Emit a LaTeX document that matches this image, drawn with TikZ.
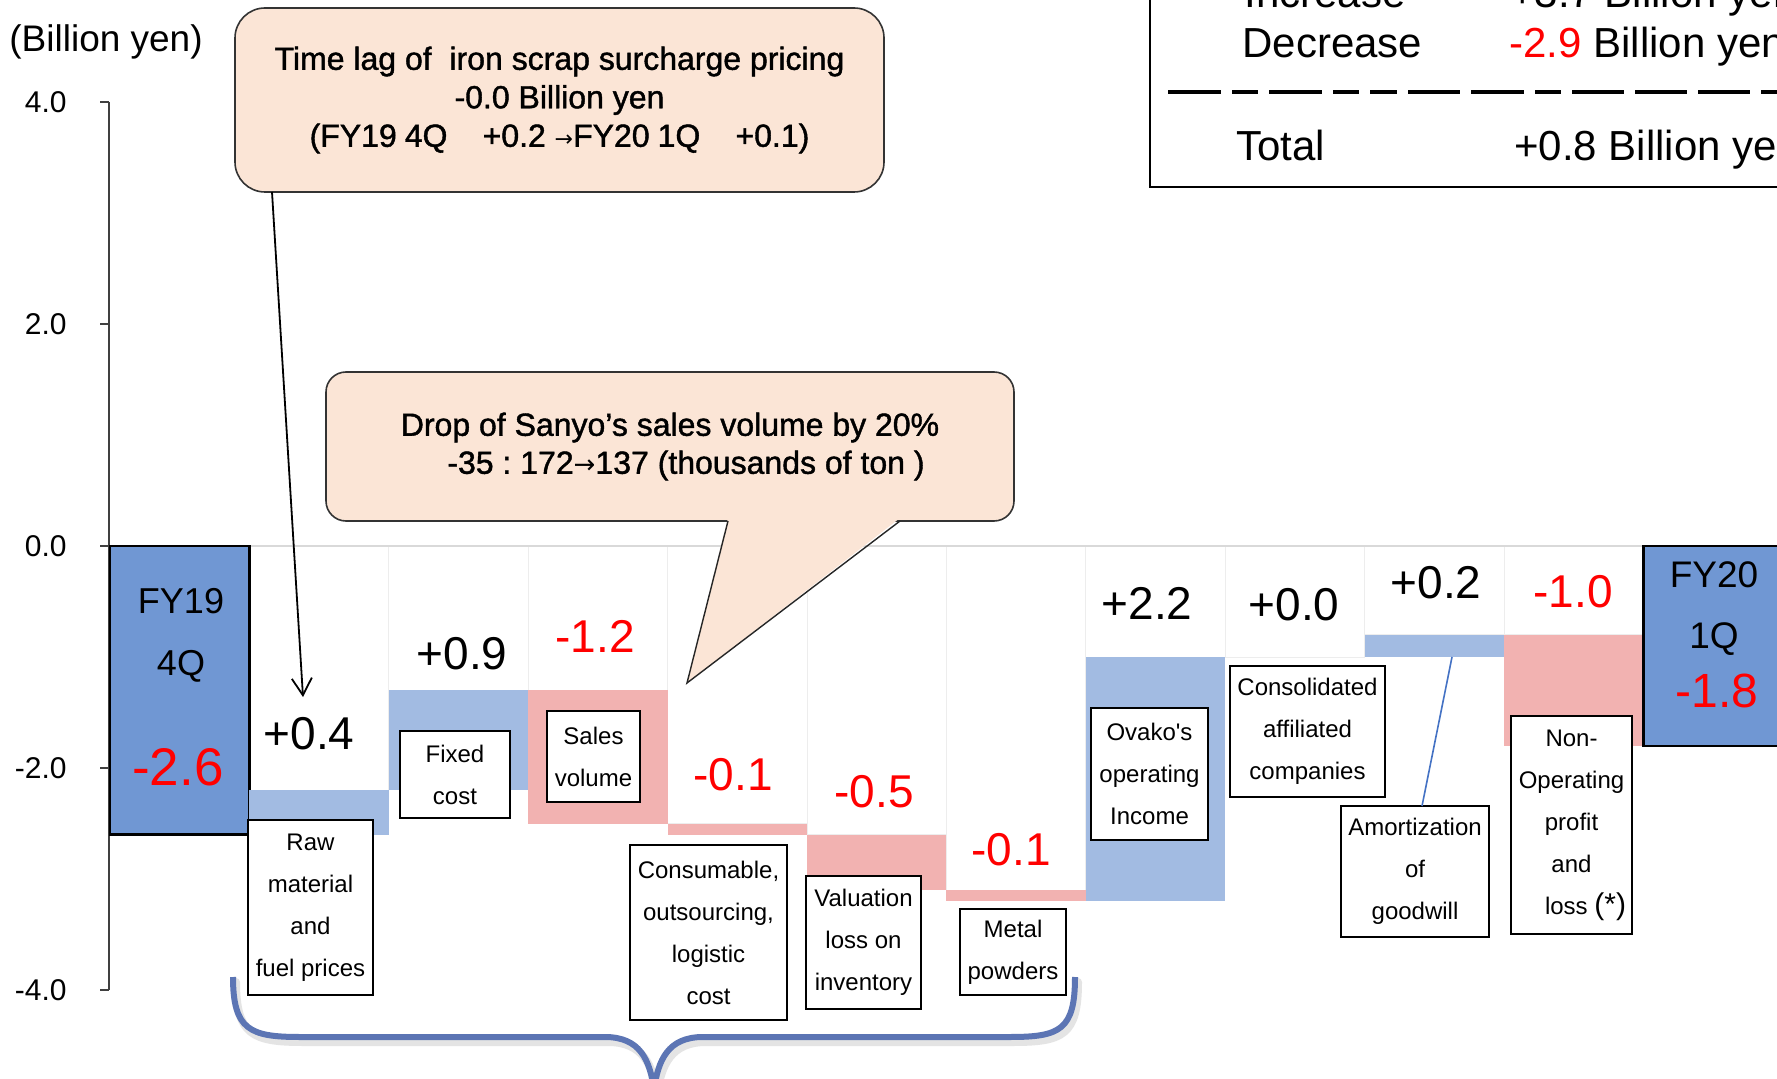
\documentclass[tikz,border=0pt]{standalone}
\usepackage{fontspec}
\setmainfont{Liberation Sans}
\newfontfamily\calloutfont[FakeBold=1.3]{Liberation Sans}
\newfontfamily\arrowfont{DejaVu Sans}
\usetikzlibrary{arrows.meta}
\definecolor{fyblue}{RGB}{112,151,211}
\definecolor{upblue}{RGB}{162,187,226}
\definecolor{downpink}{RGB}{242,178,177}
\definecolor{peach}{RGB}{251,229,214}
\definecolor{bracecol}{RGB}{92,117,180}
\definecolor{linkblue}{RGB}{68,114,196}
\newcommand{\setfs}[2]{\fontsize{#1}{#2}\selectfont}
\newcommand{\straightapos}{\XeTeXglyph\XeTeXcharglyph"0027\relax}
\frenchspacing
\begin{document}
\begin{tikzpicture}[x=0.5pt,y=-0.5pt,
  every node/.style={inner sep=0pt},
  totalbar/.style={fill=fyblue,draw=black,line width=1.2pt},
  upbar/.style={fill=upblue},
  downbar/.style={fill=downpink},
  ghost/.style={fill=white,draw=black!7,line width=0.4pt},
  val/.style={font=\setfs{23}{28}},
  negval/.style={font=\setfs{23}{28},text=red},
  lbl/.style={draw=black,line width=0.8pt,fill=white,align=center,font=\setfs{12}{21}},
  callout/.style={fill=peach,draw=black!80,line width=0.8pt},
  legtext/.style={font=\setfs{21}{25},anchor=base west},
  ticklbl/.style={font=\setfs{15}{18},anchor=east}
]
\useasboundingbox (0,0) rectangle (1777,1079);
\clip (0,0) rectangle (1777,1079);
\fill[white] (0,0) rectangle (1777,1079);

% axis
\draw[black!75,line width=0.6pt] (109,102) -- (109,990);
\foreach \yy in {102,324,546,768,990} \draw[black!75,line width=0.6pt] (100,\yy) -- (109,\yy);
\node[ticklbl] (t4) at (67,102) {4.0};
\node[ticklbl] (t2) at (67,324) {2.0};
\node[ticklbl] (t0) at (67,546) {0.0};
\node[ticklbl] (tm2) at (67,768) {-2.0};
\node[ticklbl] (tm4) at (67,990) {-4.0};
\node[font=\setfs{18.5}{22},anchor=west] (unit) at (9,42) {(Billion yen)};

% ghost bars
\draw[ghost] (249.4,546) rectangle (388.8,790.2);
\draw[ghost] (388.8,546) rectangle (528.2,690.3);
\draw[ghost] (528.2,546) rectangle (667.6,690.3);
\draw[ghost] (667.6,546) rectangle (807,823.5);
\draw[ghost] (807,546) rectangle (946.4,834.6);
\draw[ghost] (946.4,546) rectangle (1085.8,890.1);
\draw[ghost] (1085.8,546) rectangle (1225.2,657);
\draw[ghost] (1225.2,546) rectangle (1364.6,657);
\draw[ghost] (1364.6,546) rectangle (1504,634.8);
\draw[ghost] (1504,546) rectangle (1643.4,634.8);
\draw[black!15,line width=0.6pt] (109,546) -- (1643.4,546);

% bars
\draw[totalbar] (110,546) rectangle (249.4,834.6);
\fill[upbar] (249.4,790.2) rectangle (388.8,834.6);
\fill[upbar] (388.8,690.3) rectangle (528.2,790.2);
\fill[downbar] (528.2,690.3) rectangle (667.6,823.5);
\fill[downbar] (667.6,823.5) rectangle (807,834.6);
\fill[downbar] (807,834.6) rectangle (946.4,890.1);
\fill[downbar] (946.4,890.1) rectangle (1085.8,901.2);
\fill[upbar] (1085.8,657) rectangle (1225.2,901.2);
\fill[upbar] (1364.6,634.8) rectangle (1504,657);
\fill[downbar] (1504,634.8) rectangle (1643.4,745.8);
\draw[totalbar] (1643.4,546) rectangle (1795,745.8);

% total bar texts
\node[font=\setfs{18}{22}] (fy19a) at (181,601) {FY19};
\node[font=\setfs{18}{22}] (fy19b) at (181,666) {4Q};
\node[font=\setfs{26.5}{30},text=red] (fy19v) at (178,767) {-2.6};
\node[font=\setfs{18.5}{22}] (fy20a) at (1714,575) {FY20};
\node[font=\setfs{18.5}{22}] (fy20b) at (1714,639) {1Q};
\node[font=\setfs{24}{28},text=red] (fy20v) at (1717,691) {-1.8};

% value labels
\node[val] (v1) at (309,734) {+0.4};
\node[val] (v2) at (462,654) {+0.9};
\node[negval] (v3) at (595,636) {-1.2};
\node[negval] (v4) at (733,775) {-0.1};
\node[negval] (v5) at (874,792) {-0.5};
\node[negval] (v6) at (1011,850) {-0.1};
\node[val] (v7) at (1147,603) {+2.2};
\node[val] (v8) at (1294,605) {+0.0};
\node[val] (v9) at (1436,583) {+0.2};
\node[negval] (v10) at (1573,592) {-1.0};

% label boxes
\node[lbl,minimum width=62.5pt,minimum height=87.5pt] (raw) at (310.5,907.5) {Raw\\material\\and\\fuel prices};
\node[lbl,minimum width=55pt,minimum height=43.5pt] (fixed) at (455,774.5) {Fixed\\cost};
\node[lbl,minimum width=46.5pt,minimum height=45.5pt] (sales) at (593.5,756.5) {Sales\\volume};
\node[lbl,minimum width=78.5pt,minimum height=87.5pt] (consum) at (708.5,932.5) {Consumable,\\outsourcing,\\logistic\\cost};
\node[lbl,minimum width=57.5pt,minimum height=66.5pt] (valu) at (863.5,942.5) {Valuation\\loss on\\inventory};
\node[lbl,minimum width=53pt,minimum height=43pt] (metal) at (1013,952) {Metal\\powders};
\node[lbl,minimum width=58.5pt,minimum height=66pt] (ovako) at (1149.5,774) {Ovako\straightapos s\\operating\\Income};
\node[lbl,minimum width=77.5pt,minimum height=65.5pt] (consol) at (1307.5,731.5) {Consolidated\\affiliated\\companies};
\node[lbl,minimum width=74pt,minimum height=65.5pt] (amort) at (1415,871.5) {Amortization\\of\\goodwill};
\node[lbl,minimum width=60.5pt,minimum height=109pt] (nonop) at (1571.5,825) {Non-\\Operating\\profit\\and\\\hspace*{14pt}loss {\setfs{15}{21}(*)}};

% amortization link
\coordinate (amtop) at (1452,657);
\coordinate (ambot) at (1422,806);
\draw[linkblue,line width=0.8pt] (ambot) -- (amtop);

% brace
\draw[black!30,line width=4pt,opacity=0.35,line cap=round]
  (236,982) .. controls (236,1035) and (253,1042) .. (303,1042) -- (608,1042)
  .. controls (643,1042) and (653,1065) .. (657,1095);
\draw[black!30,line width=4pt,opacity=0.35,line cap=round]
  (657,1095) .. controls (661,1065) and (671,1042) .. (706,1042) -- (1013,1042)
  .. controls (1063,1042) and (1078,1035) .. (1078,982);
\draw[bracecol,line width=3pt,line join=round]
  (233,977) .. controls (233,1030) and (250,1037) .. (300,1037) -- (605,1037)
  .. controls (640,1037) and (650,1060) .. (654,1090)
  .. controls (658,1060) and (668,1037) .. (703,1037) -- (1010,1037)
  .. controls (1060,1037) and (1075,1030) .. (1075,977);

% callout 1
\node[callout,rounded corners=15pt,minimum width=324.5pt,minimum height=92pt,align=center,font=\calloutfont\setfs{16}{19.25}] (cal1) at (559.5,100)
  {Time lag of\ \ iron scrap surcharge pricing\\-0.0 Billion yen\\(FY19\hspace{0.25em}4Q\hspace{1.1em}+0.2 {\arrowfont\setfs{11}{19.25}→}FY20\hspace{0.25em}1Q\hspace{1.1em}+0.1)};
\coordinate (arrstart) at (272,192);
\coordinate (arrtip) at (303,697);
\draw[line width=0.9pt,-{Straight Barb[length=8.5pt,width=10pt]}] (arrstart) -- (arrtip);

% callout 2
\node[callout,rounded corners=10pt,minimum width=344pt,minimum height=74.5pt,align=center,font=\calloutfont\setfs{16}{19}] (cal2) at (670,446.5)
  {Drop of Sanyo’s sales volume by 20\%\\\hspace*{16pt}-35 : 172{\arrowfont\setfs{13}{19}→}137 (thousands of ton )};
\coordinate (ptrl) at (728,521);
\coordinate (ptrr) at (900,521);
\coordinate (ptrtip) at (687,683);
\fill[peach] (728,518) -- (ptrtip) -- (900,518) -- cycle;
\draw[black!85,line width=0.7pt,line join=miter] (ptrl) -- (ptrtip) -- (ptrr);

% legend box
\node[draw=black,line width=1pt,fill=white,minimum width=320pt,minimum height=98.5pt] (legend) at (1470,88.5) {};
\node[legtext] (inc) at (1244,8) {Increase};
\node[legtext] (incv) at (1510,8) {+3.7 Billion yen};
\node[legtext] (dec) at (1242,58) {Decrease};
\node[legtext] (decv) at (1509,58) {\textcolor{red}{-2.9} Billion yen};
\draw[line width=2pt,dash pattern=on 26.5pt off 5.5pt on 13pt off 5.5pt on 26.5pt off 5.5pt on 13pt off 5.5pt on 13.5pt off 5.5pt on 26pt off 5.5pt on 26.5pt off 5.5pt on 13pt off 5.5pt on 26pt off 5.5pt on 26pt off 5.5pt on 26pt off 5.5pt on 13pt off 5.5pt]
  (1168,92) -- (1790,92);
\node[legtext] (tot) at (1236,161) {Total};
\node[legtext] (totv) at (1514,161) {+0.8 Billion yen};
\end{tikzpicture}
\end{document}
